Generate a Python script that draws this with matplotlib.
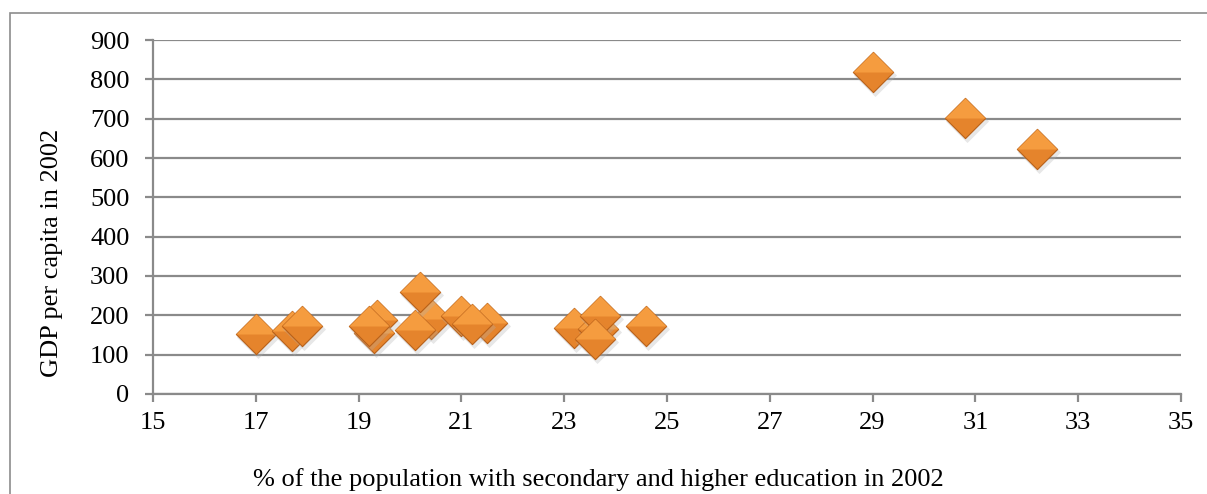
import matplotlib
matplotlib.use("Agg")
import matplotlib.pyplot as plt
from matplotlib.path import Path
from matplotlib.transforms import offset_copy
from matplotlib.patches import Rectangle

# Education share (%) vs GDP per capita, 2002
education_pct = [17.0, 17.7, 17.9, 19.35, 19.3, 19.2, 20.4, 20.1, 20.2,
                 21.0, 21.5, 21.2, 23.2, 23.65, 23.7, 23.6, 24.6,
                 29.0, 30.8, 32.2]
gdp_per_capita = [153, 160, 172, 188, 155, 173, 190, 162, 259,
                  198, 180, 178, 169, 165, 199, 140, 173,
                  819, 702, 622]

x_ticks = [15, 17, 19, 21, 23, 25, 27, 29, 31, 33, 35]
y_ticks = [0, 100, 200, 300, 400, 500, 600, 700, 800, 900]

plt.rcParams['font.family'] = ['Liberation Serif', 'DejaVu Serif']

fig = plt.figure(figsize=(12.07, 4.94), dpi=100)
W, H = 1207, 494
ax = fig.add_axes([153 / W, 1 - 394 / H, (1181 - 153) / W, (394 - 40) / H])

# chart frame
fig.patches.append(Rectangle((10 / W, -0.1), 1.2, 1 - 13.5 / H + 0.1,
                             transform=fig.transFigure, fill=False,
                             edgecolor='#8c8c8c', linewidth=1.2))

grid_c = '#8a8a8a'
ax.set_xlim(15, 35)
ax.set_ylim(0, 900)
ax.set_xticks(x_ticks)
ax.set_yticks(y_ticks)
ax.yaxis.grid(True, color=grid_c, linewidth=1.6)
ax.set_axisbelow(True)
for s in ['top', 'right']:
    ax.spines[s].set_visible(False)
for s in ['left', 'bottom']:
    ax.spines[s].set_color(grid_c)
    ax.spines[s].set_linewidth(1.6)
ax.tick_params(axis='both', colors=grid_c, length=6, width=1.6,
               labelcolor='black', labelsize=19)
ax.tick_params(axis='y', pad=11)
ax.tick_params(axis='x', pad=7)

# pyramid-style diamond markers: full diamond, then a lighter upper half
diamond = Path([(-1, 0), (0, 1), (1, 0), (0, -1), (-1, 0)],
               [Path.MOVETO, Path.LINETO, Path.LINETO, Path.LINETO, Path.CLOSEPOLY])
upper = Path([(-1, 0), (0, 1), (1, 0), (-1, 0)],
             [Path.MOVETO, Path.LINETO, Path.LINETO, Path.CLOSEPOLY])
ms = 29
shadow_tr = offset_copy(ax.transData, fig=fig, x=2, y=-3, units='dots')
for i, (xv, yv) in enumerate(zip(education_pct, gdp_per_capita)):
    z = 3 + i * 0.01
    ax.plot([xv], [yv], linestyle='none', marker=diamond, markersize=ms + 2,
            markerfacecolor='#b0b0b0', markeredgecolor='none', alpha=0.3,
            transform=shadow_tr, zorder=z, clip_on=False)
    ax.plot([xv], [yv], linestyle='none', marker=diamond, markersize=ms,
            markerfacecolor='#e5842c', markeredgecolor='#b86018',
            markeredgewidth=0.8, zorder=z + 0.001, clip_on=False)
    ax.plot([xv], [yv], linestyle='none', marker=upper, markersize=ms,
            markerfacecolor='#f59c3f', markeredgecolor='none',
            zorder=z + 0.002, clip_on=False)

fig.text(52 / W, 1 - 253 / H, 'GDP per capita in 2002', rotation=90,
         ha='center', va='center', fontsize=19)
fig.text(598 / W, 1 - 480 / H,
         '% of the population with secondary and higher education in 2002',
         ha='center', va='center', fontsize=19)

fig.savefig('out.png', dpi=100)
